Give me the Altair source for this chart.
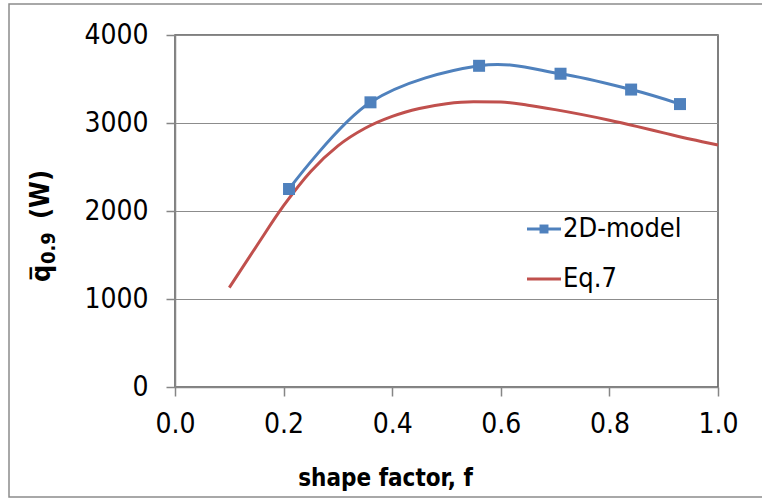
import altair as alt
import pandas as pd

# 2D-model results (markers) and Eq.7 curve
model_f = [0.21, 0.36, 0.56, 0.71, 0.84, 0.93]
model_q = [2250, 3235, 3650, 3560, 3380, 3215]

eq7_f = [0.10, 0.15, 0.20, 0.25, 0.30, 0.35, 0.40, 0.45, 0.50, 0.55,
         0.60, 0.65, 0.70, 0.75, 0.80, 0.85, 0.90, 0.95, 1.00]
eq7_q = [1130, 1600, 2060, 2450, 2740, 2940, 3075, 3165, 3220, 3242,
         3238, 3202, 3152, 3095, 3032, 2962, 2888, 2815, 2750]

x_ticks = [0.0, 0.2, 0.4, 0.6, 0.8, 1.0]
y_ticks = [0, 1000, 2000, 3000, 4000]

BLUE = "#4F81BD"
RED = "#C0504D"
FONT = "DejaVu Sans Condensed"

model = pd.DataFrame({"f": model_f, "q": model_q})
eq7 = pd.DataFrame({"f": eq7_f, "q": eq7_q})

x_enc = alt.X("f:Q", scale=alt.Scale(domain=[0, 1], nice=False),
              axis=alt.Axis(values=x_ticks, format=".1f", title="shape factor, f",
                            titleX=210, titleY=98, titleBaseline="alphabetic",
                            titleAlign="center", grid=False, labelFlush=False))
y_enc = alt.Y("q:Q", scale=alt.Scale(domain=[0, 4000], nice=False),
              axis=alt.Axis(values=y_ticks, format="d", title=None, grid=True,
                            labelFlush=False))

eq7_line = alt.Chart(eq7).mark_line(color=RED, strokeWidth=3, interpolate="monotone").encode(
    x=x_enc, y=y_enc)

model_line = alt.Chart(model).mark_line(color=BLUE, strokeWidth=3, interpolate="cardinal").encode(
    x="f:Q", y="q:Q")
model_pts = alt.Chart(model).mark_point(shape="square", filled=True, color=BLUE,
                                        opacity=1, size=144).encode(x="f:Q", y="q:Q")

# Legend drawn by hand: line keys with a square for the model series
legend_rows = pd.DataFrame({"name": ["2D-model", "Eq.7"], "color": [BLUE, RED],
                            "yy": [194, 244]})
leg_lines = alt.Chart(legend_rows).mark_rule(strokeWidth=3).encode(
    x=alt.value(352), x2=alt.value(386), y=alt.Y("yy:Q", scale=None),
    color=alt.Color("color:N", scale=None))
leg_sq = alt.Chart(legend_rows.iloc[:1]).mark_point(shape="square", filled=True, opacity=1,
                                                   size=80, color=BLUE).encode(
    x=alt.value(369), y=alt.Y("yy:Q", scale=None))
leg_text = alt.Chart(legend_rows).mark_text(align="left", baseline="middle", font=FONT,
                                            fontSize=27, color="#000").encode(
    x=alt.value(388), y=alt.Y("yy:Q", scale=None), text="name:N")

# Rotated y title: q with overbar, subscript 0.9, then (W)
ytitle = pd.DataFrame({"t": ["q\u0305", "0.9", "(W)"],
                       "xx": [-125, -120, -126],
                       "yy": [247, 229, 184],
                       "fs": [27, 20, 27]})
y_title = alt.Chart(ytitle).mark_text(angle=270, align="left", baseline="alphabetic",
                                      font=FONT, fontWeight="bold", color="#000").encode(
    x=alt.X("xx:Q", scale=None), y=alt.Y("yy:Q", scale=None), text="t:N",
    size=alt.Size("fs:Q", scale=None, legend=None))

# Outer chart frame
frame = alt.Chart(pd.DataFrame({"a": [0]})).mark_rect(fill=None, stroke="#8c8c8c",
                                                      strokeWidth=1.5, clip=False).encode(
    x=alt.value(-166), x2=alt.value(600), y=alt.value(-31), y2=alt.value(462))

chart = alt.layer(eq7_line, model_line, model_pts, leg_lines, leg_sq, leg_text,
                  y_title, frame).properties(
    width=543, height=352, autosize="none",
    padding={"left": 175, "top": 35, "right": 44, "bottom": 111},
    background="white",
).configure_view(stroke="#555555", strokeWidth=1.5).configure_axis(
    labelFont=FONT, labelFontSize=28, labelColor="#000",
    titleFont=FONT, titleFontSize=24, titleFontWeight="bold", titleColor="#000",
    domainColor="#868686", domainWidth=1.5, tickColor="#868686", tickWidth=1.5,
    tickSize=9, gridColor="#8c8c8c", gridWidth=1.2,
).configure_axisY(labelPadding=18).configure_axisX(labelPadding=14)

chart.save("out.html", embed_options={"renderer": "svg", "actions": False})
